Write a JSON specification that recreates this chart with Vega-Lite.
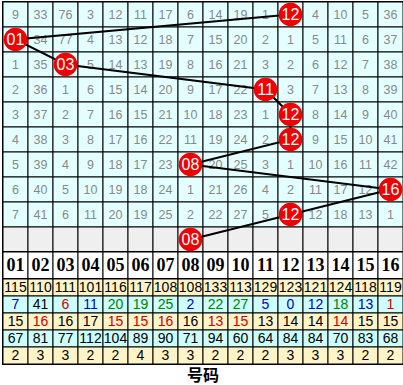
{
  "$schema": "https://vega.github.io/schema/vega-lite/v6.json",
  "padding": {"left": 1, "top": 0, "right": 2, "bottom": 0},
  "spacing": 0,
  "bounds": "flush",
  "background": "white",
  "config": {"view": {"stroke": "black", "strokeWidth": 2}, "concat": {"spacing": 0}},
  "datasets": {
    "grid": [
      {"c":1,"r":0,"v":"9"},{"c":2,"r":0,"v":"33"},{"c":3,"r":0,"v":"76"},{"c":4,"r":0,"v":"3"},{"c":5,"r":0,"v":"12"},{"c":6,"r":0,"v":"11"},{"c":7,"r":0,"v":"17"},{"c":8,"r":0,"v":"6"},{"c":9,"r":0,"v":"14"},{"c":10,"r":0,"v":"19"},{"c":11,"r":0,"v":"1"},{"c":12,"r":0,"v":"12","b":1},{"c":13,"r":0,"v":"4"},{"c":14,"r":0,"v":"10"},{"c":15,"r":0,"v":"5"},{"c":16,"r":0,"v":"36"},
      {"c":1,"r":1,"v":"01","b":1},{"c":2,"r":1,"v":"34"},{"c":3,"r":1,"v":"77"},{"c":4,"r":1,"v":"4"},{"c":5,"r":1,"v":"13"},{"c":6,"r":1,"v":"12"},{"c":7,"r":1,"v":"18"},{"c":8,"r":1,"v":"7"},{"c":9,"r":1,"v":"15"},{"c":10,"r":1,"v":"20"},{"c":11,"r":1,"v":"2"},{"c":12,"r":1,"v":"1"},{"c":13,"r":1,"v":"5"},{"c":14,"r":1,"v":"11"},{"c":15,"r":1,"v":"6"},{"c":16,"r":1,"v":"37"},
      {"c":1,"r":2,"v":"1"},{"c":2,"r":2,"v":"35"},{"c":3,"r":2,"v":"03","b":1},{"c":4,"r":2,"v":"5"},{"c":5,"r":2,"v":"14"},{"c":6,"r":2,"v":"13"},{"c":7,"r":2,"v":"19"},{"c":8,"r":2,"v":"8"},{"c":9,"r":2,"v":"16"},{"c":10,"r":2,"v":"21"},{"c":11,"r":2,"v":"3"},{"c":12,"r":2,"v":"2"},{"c":13,"r":2,"v":"6"},{"c":14,"r":2,"v":"12"},{"c":15,"r":2,"v":"7"},{"c":16,"r":2,"v":"38"},
      {"c":1,"r":3,"v":"2"},{"c":2,"r":3,"v":"36"},{"c":3,"r":3,"v":"1"},{"c":4,"r":3,"v":"6"},{"c":5,"r":3,"v":"15"},{"c":6,"r":3,"v":"14"},{"c":7,"r":3,"v":"20"},{"c":8,"r":3,"v":"9"},{"c":9,"r":3,"v":"17"},{"c":10,"r":3,"v":"22"},{"c":11,"r":3,"v":"11","b":1},{"c":12,"r":3,"v":"3"},{"c":13,"r":3,"v":"7"},{"c":14,"r":3,"v":"13"},{"c":15,"r":3,"v":"8"},{"c":16,"r":3,"v":"39"},
      {"c":1,"r":4,"v":"3"},{"c":2,"r":4,"v":"37"},{"c":3,"r":4,"v":"2"},{"c":4,"r":4,"v":"7"},{"c":5,"r":4,"v":"16"},{"c":6,"r":4,"v":"15"},{"c":7,"r":4,"v":"21"},{"c":8,"r":4,"v":"10"},{"c":9,"r":4,"v":"18"},{"c":10,"r":4,"v":"23"},{"c":11,"r":4,"v":"1"},{"c":12,"r":4,"v":"12","b":1},{"c":13,"r":4,"v":"8"},{"c":14,"r":4,"v":"14"},{"c":15,"r":4,"v":"9"},{"c":16,"r":4,"v":"40"},
      {"c":1,"r":5,"v":"4"},{"c":2,"r":5,"v":"38"},{"c":3,"r":5,"v":"3"},{"c":4,"r":5,"v":"8"},{"c":5,"r":5,"v":"17"},{"c":6,"r":5,"v":"16"},{"c":7,"r":5,"v":"22"},{"c":8,"r":5,"v":"11"},{"c":9,"r":5,"v":"19"},{"c":10,"r":5,"v":"24"},{"c":11,"r":5,"v":"2"},{"c":12,"r":5,"v":"12","b":1},{"c":13,"r":5,"v":"9"},{"c":14,"r":5,"v":"15"},{"c":15,"r":5,"v":"10"},{"c":16,"r":5,"v":"41"},
      {"c":1,"r":6,"v":"5"},{"c":2,"r":6,"v":"39"},{"c":3,"r":6,"v":"4"},{"c":4,"r":6,"v":"9"},{"c":5,"r":6,"v":"18"},{"c":6,"r":6,"v":"17"},{"c":7,"r":6,"v":"23"},{"c":8,"r":6,"v":"08","b":1},{"c":9,"r":6,"v":"20"},{"c":10,"r":6,"v":"25"},{"c":11,"r":6,"v":"3"},{"c":12,"r":6,"v":"1"},{"c":13,"r":6,"v":"10"},{"c":14,"r":6,"v":"16"},{"c":15,"r":6,"v":"11"},{"c":16,"r":6,"v":"42"},
      {"c":1,"r":7,"v":"6"},{"c":2,"r":7,"v":"40"},{"c":3,"r":7,"v":"5"},{"c":4,"r":7,"v":"10"},{"c":5,"r":7,"v":"19"},{"c":6,"r":7,"v":"18"},{"c":7,"r":7,"v":"24"},{"c":8,"r":7,"v":"1"},{"c":9,"r":7,"v":"21"},{"c":10,"r":7,"v":"26"},{"c":11,"r":7,"v":"4"},{"c":12,"r":7,"v":"2"},{"c":13,"r":7,"v":"11"},{"c":14,"r":7,"v":"17"},{"c":15,"r":7,"v":"12"},{"c":16,"r":7,"v":"16","b":1},
      {"c":1,"r":8,"v":"7"},{"c":2,"r":8,"v":"41"},{"c":3,"r":8,"v":"6"},{"c":4,"r":8,"v":"11"},{"c":5,"r":8,"v":"20"},{"c":6,"r":8,"v":"19"},{"c":7,"r":8,"v":"25"},{"c":8,"r":8,"v":"2"},{"c":9,"r":8,"v":"22"},{"c":10,"r":8,"v":"27"},{"c":11,"r":8,"v":"5"},{"c":12,"r":8,"v":"12","b":1},{"c":13,"r":8,"v":"12"},{"c":14,"r":8,"v":"18"},{"c":15,"r":8,"v":"13"},{"c":16,"r":8,"v":"1"},
      {"c":1,"r":9,"v":""},{"c":2,"r":9,"v":""},{"c":3,"r":9,"v":""},{"c":4,"r":9,"v":""},{"c":5,"r":9,"v":""},{"c":6,"r":9,"v":""},{"c":7,"r":9,"v":""},{"c":8,"r":9,"v":"08","b":1},{"c":9,"r":9,"v":""},{"c":10,"r":9,"v":""},{"c":11,"r":9,"v":""},{"c":12,"r":9,"v":""},{"c":13,"r":9,"v":""},{"c":14,"r":9,"v":""},{"c":15,"r":9,"v":""},{"c":16,"r":9,"v":""}
    ],
    "hdr": [
      {"c":1,"v":"01"},{"c":2,"v":"02"},{"c":3,"v":"03"},{"c":4,"v":"04"},{"c":5,"v":"05"},{"c":6,"v":"06"},{"c":7,"v":"07"},{"c":8,"v":"08"},{"c":9,"v":"09"},{"c":10,"v":"10"},{"c":11,"v":"11"},{"c":12,"v":"12"},{"c":13,"v":"13"},{"c":14,"v":"14"},{"c":15,"v":"15"},{"c":16,"v":"16"}
    ],
    "stats": [
      {"c":1,"s":0,"v":"115","t":"k"},{"c":2,"s":0,"v":"110","t":"k"},{"c":3,"s":0,"v":"111","t":"k"},{"c":4,"s":0,"v":"101","t":"k"},{"c":5,"s":0,"v":"116","t":"k"},{"c":6,"s":0,"v":"117","t":"k"},{"c":7,"s":0,"v":"108","t":"k"},{"c":8,"s":0,"v":"108","t":"k"},{"c":9,"s":0,"v":"133","t":"k"},{"c":10,"s":0,"v":"113","t":"k"},{"c":11,"s":0,"v":"129","t":"k"},{"c":12,"s":0,"v":"123","t":"k"},{"c":13,"s":0,"v":"121","t":"k"},{"c":14,"s":0,"v":"124","t":"k"},{"c":15,"s":0,"v":"118","t":"k"},{"c":16,"s":0,"v":"119","t":"k"},
      {"c":1,"s":1,"v":"7","t":"b"},{"c":2,"s":1,"v":"41","t":"k"},{"c":3,"s":1,"v":"6","t":"r"},{"c":4,"s":1,"v":"11","t":"b"},{"c":5,"s":1,"v":"20","t":"g"},{"c":6,"s":1,"v":"19","t":"g"},{"c":7,"s":1,"v":"25","t":"g"},{"c":8,"s":1,"v":"2","t":"b"},{"c":9,"s":1,"v":"22","t":"g"},{"c":10,"s":1,"v":"27","t":"g"},{"c":11,"s":1,"v":"5","t":"b"},{"c":12,"s":1,"v":"0","t":"b"},{"c":13,"s":1,"v":"12","t":"b"},{"c":14,"s":1,"v":"18","t":"g"},{"c":15,"s":1,"v":"13","t":"b"},{"c":16,"s":1,"v":"1","t":"r"},
      {"c":1,"s":2,"v":"15","t":"k"},{"c":2,"s":2,"v":"16","t":"r"},{"c":3,"s":2,"v":"16","t":"k"},{"c":4,"s":2,"v":"17","t":"k"},{"c":5,"s":2,"v":"15","t":"r"},{"c":6,"s":2,"v":"15","t":"r"},{"c":7,"s":2,"v":"16","t":"r"},{"c":8,"s":2,"v":"16","t":"k"},{"c":9,"s":2,"v":"13","t":"r"},{"c":10,"s":2,"v":"15","t":"r"},{"c":11,"s":2,"v":"13","t":"k"},{"c":12,"s":2,"v":"14","t":"k"},{"c":13,"s":2,"v":"14","t":"k"},{"c":14,"s":2,"v":"14","t":"r"},{"c":15,"s":2,"v":"15","t":"k"},{"c":16,"s":2,"v":"15","t":"k"},
      {"c":1,"s":3,"v":"67","t":"k"},{"c":2,"s":3,"v":"81","t":"k"},{"c":3,"s":3,"v":"77","t":"k"},{"c":4,"s":3,"v":"112","t":"k"},{"c":5,"s":3,"v":"104","t":"k"},{"c":6,"s":3,"v":"89","t":"k"},{"c":7,"s":3,"v":"90","t":"k"},{"c":8,"s":3,"v":"71","t":"k"},{"c":9,"s":3,"v":"94","t":"k"},{"c":10,"s":3,"v":"60","t":"k"},{"c":11,"s":3,"v":"64","t":"k"},{"c":12,"s":3,"v":"84","t":"k"},{"c":13,"s":3,"v":"84","t":"k"},{"c":14,"s":3,"v":"70","t":"k"},{"c":15,"s":3,"v":"83","t":"k"},{"c":16,"s":3,"v":"68","t":"k"},
      {"c":1,"s":4,"v":"2","t":"k"},{"c":2,"s":4,"v":"3","t":"k"},{"c":3,"s":4,"v":"3","t":"k"},{"c":4,"s":4,"v":"2","t":"k"},{"c":5,"s":4,"v":"2","t":"k"},{"c":6,"s":4,"v":"4","t":"k"},{"c":7,"s":4,"v":"3","t":"k"},{"c":8,"s":4,"v":"3","t":"k"},{"c":9,"s":4,"v":"2","t":"k"},{"c":10,"s":4,"v":"2","t":"k"},{"c":11,"s":4,"v":"2","t":"k"},{"c":12,"s":4,"v":"3","t":"k"},{"c":13,"s":4,"v":"3","t":"k"},{"c":14,"s":4,"v":"3","t":"k"},{"c":15,"s":4,"v":"2","t":"k"},{"c":16,"s":4,"v":"2","t":"k"}
    ],
    "foot": [{"v":"号码"}]
  },
  "vconcat": [
    {
      "width": 400, "height": 250,
      "data": {"name": "grid"},
      "encoding": {
        "x": {"field": "c", "type": "ordinal", "axis": null, "scale": {"type": "band", "domain": [1,2,3,4,5,6,7,8,9,10,11,12,13,14,15,16], "paddingInner": 0, "paddingOuter": 0}},
        "y": {"field": "r", "type": "ordinal", "axis": null, "scale": {"type": "band", "domain": [0,1,2,3,4,5,6,7,8,9], "paddingInner": 0, "paddingOuter": 0}}
      },
      "layer": [
        {"mark": {"type": "rect", "stroke": "black", "strokeWidth": 1},
         "encoding": {"fill": {"condition": {"test": "datum.r == 9", "value": "#efefef"}, "value": "#e4ffff"}}},
        {"transform": [{"filter": "!datum.b && datum.v != ''"}],
         "mark": {"type": "text", "font": "Liberation Sans", "fontSize": 12.5, "color": "#888888", "baseline": "middle", "align": "center"},
         "encoding": {"text": {"field": "v"}}},
        {"transform": [{"filter": "datum.b == 1"}],
         "mark": {"type": "line", "color": "black", "strokeWidth": 2},
         "encoding": {"order": {"field": "r", "type": "quantitative"}}},
        {"transform": [{"filter": "datum.b == 1"}],
         "mark": {"type": "circle", "color": "#f00000", "opacity": 1, "size": 560}},
        {"transform": [{"filter": "datum.b == 1"}],
         "mark": {"type": "text", "font": "Liberation Sans", "fontSize": 16, "color": "white", "baseline": "middle", "align": "center"},
         "encoding": {"text": {"field": "v"}}}
      ]
    },
    {
      "width": 400, "height": 27,
      "data": {"name": "hdr"},
      "encoding": {
        "x": {"field": "c", "type": "ordinal", "axis": null, "scale": {"type": "band", "domain": [1,2,3,4,5,6,7,8,9,10,11,12,13,14,15,16], "paddingInner": 0, "paddingOuter": 0}}
      },
      "layer": [
        {"mark": {"type": "rect", "stroke": "black", "strokeWidth": 1, "fill": "white"}},
        {"mark": {"type": "text", "font": "Liberation Serif", "fontWeight": "bold", "fontSize": 18, "color": "black", "baseline": "middle", "align": "center"},
         "encoding": {"text": {"field": "v"}}}
      ]
    },
    {
      "width": 400, "height": 85,
      "data": {"name": "stats"},
      "encoding": {
        "x": {"field": "c", "type": "ordinal", "axis": null, "scale": {"type": "band", "domain": [1,2,3,4,5,6,7,8,9,10,11,12,13,14,15,16], "paddingInner": 0, "paddingOuter": 0}},
        "y": {"field": "s", "type": "ordinal", "axis": null, "scale": {"type": "band", "domain": [0,1,2,3,4], "paddingInner": 0, "paddingOuter": 0}}
      },
      "layer": [
        {"mark": {"type": "rect", "stroke": "black", "strokeWidth": 1},
         "encoding": {"fill": {"condition": {"test": "datum.s % 2 == 0", "value": "#fff4c8"}, "value": "#cdfdfd"}}},
        {"mark": {"type": "text", "font": "Liberation Sans", "fontSize": 14, "baseline": "middle", "align": "center"},
         "encoding": {
           "text": {"field": "v"},
           "color": {"field": "t", "type": "nominal", "legend": null, "scale": {"domain": ["k","b","r","g"], "range": ["#000000","#0000cc","#cc0000","#008000"]}}
         }}
      ]
    },
    {
      "width": 400, "height": 23,
      "data": {"name": "foot"},
      "mark": {"type": "text", "font": "Noto Sans CJK SC", "fontWeight": "bold", "fontSize": 16, "color": "black", "baseline": "middle", "align": "center"},
      "encoding": {"text": {"field": "v"}}
    }
  ]
}
